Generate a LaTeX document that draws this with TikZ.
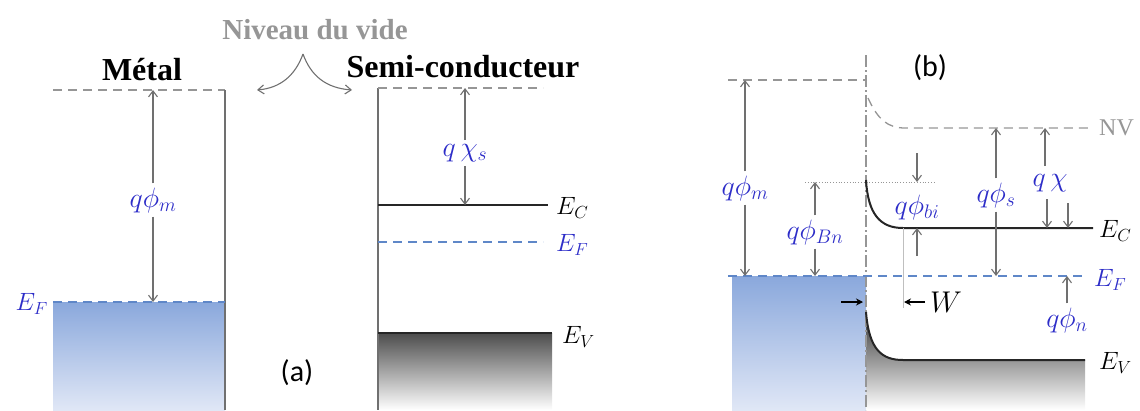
\RequirePackage{fix-cm}
\documentclass[tikz,border=0pt]{standalone}
\usepackage{fontspec}
\setmainfont{Liberation Serif}[BoldFont={Liberation Serif Bold},ItalicFont={Liberation Serif Italic}]
\newfontfamily\tagfont{Carlito}
\usetikzlibrary{arrows.meta}
\definecolor{LblBlue}{RGB}{45,45,200}
\definecolor{LvlGray}{RGB}{150,150,150}
\definecolor{DimGray}{RGB}{112,112,112}
\definecolor{FermiBlue}{RGB}{95,135,200}
\definecolor{MetalTop}{RGB}{138,168,220}
\definecolor{MetalBot}{RGB}{224,231,246}

\begin{document}
\begin{tikzpicture}[x=1pt,y=-1pt,
	vac/.style={draw=LvlGray,dash pattern=on 9pt off 6pt,line width=1.3pt},
	fermi/.style={draw=FermiBlue,dash pattern=on 9pt off 6pt,line width=1.3pt},
	band/.style={draw=black!85,line width=2pt},
	wall/.style={draw=DimGray,line width=1.2pt},
	dim/.style={draw=DimGray,line width=1.1pt,-{Straight Barb[length=6pt,width=9pt]}},
	wdim/.style={draw=black,line width=1.3pt,-{Stealth[length=7pt,width=7pt]}},
	qlbl/.style={text=LblBlue,font=\fontsize{28}{32}\selectfont,inner sep=4pt},
	elbl/.style={font=\fontsize{25}{30}\selectfont,anchor=west,inner sep=0pt},
	title/.style={font=\fontsize{32}{36}\selectfont\bfseries},
	tag/.style={font=\fontsize{30}{34}\selectfont\tagfont}]
\useasboundingbox (0,0) rectangle (1140,410);
%% (a) metal and semiconductor apart
\coordinate (mvacL) at (53,90);
\coordinate (mvacR) at (225,90);
\coordinate (mefL) at (53,302);
\coordinate (mefR) at (225,302);
\coordinate (svacL) at (378,88);
\coordinate (svacR) at (543,88);
\coordinate (secL) at (378,205);
\coordinate (secR) at (548,205);
\coordinate (sefL) at (378,242);
\coordinate (sefR) at (543,242);
\coordinate (sevL) at (378,333);
\coordinate (sevR) at (552,333);
\shade[top color=MetalTop,bottom color=MetalBot] (mefL) rectangle (225,410);
\shade[top color=black!70,bottom color=white] (sevL) rectangle (552,410);
\draw[vac] (mvacL) -- (mvacR);
\draw[wall] (mvacR) -- (225,410);
\draw[fermi] (mefL) -- (mefR);
\draw[wall] (svacL) -- (378,410);
\draw[vac] (svacL) -- (svacR);
\draw[band] (secL) -- (secR);
\draw[fermi] (sefL) -- (sefR);
\draw[band] (sevL) -- (sevR);
\node[title] (metal) at (142,70) {Métal};
\node[title] (semi) at (463,67) {Semi-conducteur};
\node[title,text=LvlGray,font=\fontsize{29}{32}\selectfont\bfseries] (niveau) at (315,30) {Niveau du vide};
\coordinate (peak) at (303,54);
\draw[draw=DimGray,line width=1.1pt,-{Straight Barb[length=6pt,width=9pt]}] (peak) .. controls (295,76) and (280,88) .. (257,90);
\draw[draw=DimGray,line width=1.1pt,-{Straight Barb[length=6pt,width=9pt]}] (peak) .. controls (311,76) and (326,88) .. (352,90);
\node[elbl,text=LblBlue,anchor=east] (efa) at (48,304) {$E_F$};
\node[elbl] (eca) at (556,208) {$E_C$};
\node[elbl,text=LblBlue] (efsa) at (556,245) {$E_F$};
\node[elbl] (eva) at (562,337) {$E_V$};
\node[qlbl] (phima) at (153,200) {$q\phi_m$};
\draw[dim] (phima.north) -- (mvacL -| phima.north);
\draw[dim] (phima.south) -- (mefL -| phima.south);
\node[qlbl] (chia) at (465,153) {$q\,\chi_s$};
\draw[dim] (chia.north) -- (svacL -| chia.north);
\draw[dim] (chia.south) -- (secL -| chia.south);
\node[tag] (taga) at (297,373) {(a)};
%% (b) junction
\coordinate (vacm) at (728,80);
\coordinate (junc) at (866,80);
\coordinate (efL) at (728,276);
\coordinate (efR) at (1085,276);
\coordinate (dotL) at (805,182);
\coordinate (dotR) at (935,182);
\coordinate (ecK) at (903,228);
\coordinate (ecR) at (1093,228);
\coordinate (nvR) at (1093,128);
\shade[top color=MetalTop,bottom color=MetalBot] (732,276) rectangle (866,410);
\shade[top color=black!80,bottom color=white] (866,312) .. controls (869,350) and (882,360) .. (903,360) -- (1085,360) -- (1085,410) -- (866,410) -- cycle;
\draw[vac] (vacm) -- (junc);
\draw[draw=LvlGray,line width=1.2pt,dash pattern=on 12pt off 3pt on 2pt off 3pt] (866,55) -- (866,410);
\draw[vac] (868,98) .. controls (878,120) and (888,128) .. (905,128) -- (nvR);
\draw[band] (866,180) .. controls (868,214) and (880,228) .. (ecK) -- (ecR);
\draw[band] (866,312) .. controls (869,350) and (882,360) .. (903,360) -- (1085,360);
\draw[fermi] (efL) -- (efR);
\draw[draw=LvlGray,line width=0.8pt,dotted] (dotL) -- (dotR);
\draw[draw=black!25,line width=0.8pt] (ecK) -- (903,308);
\node[elbl,text=LvlGray,font=\fontsize{24}{28}\selectfont] (nv) at (1099,128) {NV};
\node[elbl] (ecb) at (1099,231) {$E_C$};
\node[elbl,text=LblBlue] (efb) at (1094,280) {$E_F$};
\node[elbl] (evb) at (1099,363) {$E_V$};
\node[tag] (tagb) at (930,68) {(b)};
\node[qlbl] (phimb) at (745,188) {$q\phi_m$};
\draw[dim] (phimb.north) -- (vacm -| phimb.north);
\draw[dim] (phimb.south) -- (efL -| phimb.south);
\node[qlbl] (phibn) at (815,232) {$q\phi_{Bn}$};
\draw[dim] (phibn.north) -- (dotL -| phibn.north);
\draw[dim] (phibn.south) -- (efL -| phibn.south);
\node[qlbl] (phibi) at (917,207) {$q\phi_{bi}$};
\draw[dim] (917,153) -- (dotL -| phibi.north);
\draw[dim] (917,256) -- (ecK -| phibi.south);
\node[qlbl] (phis) at (996,195) {$q\phi_s$};
\draw[dim] (phis.north) -- (nvR -| phis.north);
\draw[dim] (phis.south) -- (efL -| phis.south);
\node[qlbl] (chib) at (1050,183) {$q\,\chi$};
\draw[dim] (1045,166) -- (1045,128);
\draw[dim] (1047,199) -- (1047,228);
\draw[dim] (1068,203) -- (1068,228);
\node[qlbl] (phin) at (1067,320) {$q\phi_n$};
\draw[dim] (phin.north) -- (efL -| phin.north);
\node[font=\fontsize{30}{34}\selectfont,inner sep=0pt] (wlbl) at (946,302) {$W$};
\draw[wdim] (841,302) -- (863,302);
\draw[wdim] (925,302) -- (904,302);
\end{tikzpicture}
\end{document}
